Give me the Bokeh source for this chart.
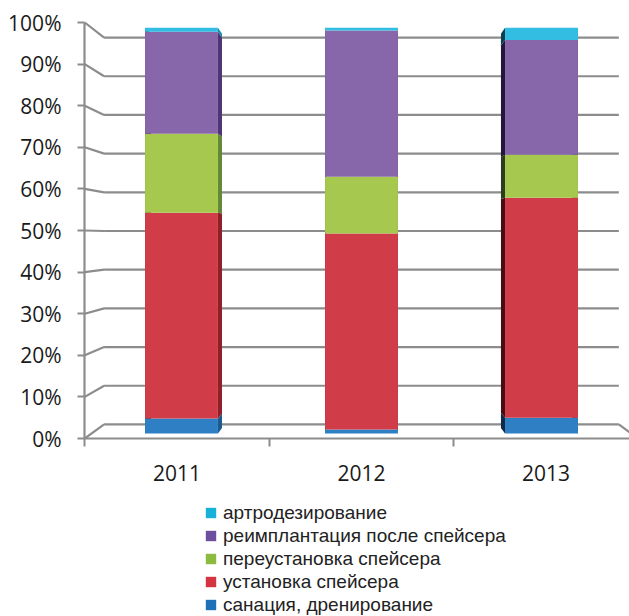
from bokeh.plotting import figure
from bokeh.layouts import column
from bokeh.models import Range1d, LinearAxis, FixedTicker, Legend, LegendItem, PrintfTickFormatter
from bokeh.embed import file_html
from bokeh.resources import INLINE

# ---------------- data ----------------
years = ["2011", "2012", "2013"]
sanation = [3.7, 1.0, 3.9]        # санация, дренирование
spacer = [50.7, 48.3, 54.2]       # установка спейсера
respacer = [19.5, 14.0, 10.6]     # переустановка спейсера
reimplant = [25.1, 36.0, 28.3]    # реимплантация после спейсера
arthrodesis = [1.0, 0.7, 3.0]     # артродезирование
y_ticks = [0, 10, 20, 30, 40, 50, 60, 70, 80, 90, 100]

series_names = ["санация, дренирование", "установка спейсера", "переустановка спейсера",
                "реимплантация после спейсера", "артродезирование"]
series_values = [sanation, spacer, respacer, reimplant, arthrodesis]
front_colors = ["#2e7fc3", "#d03c48", "#a6c84e", "#8766a9", "#34bde2"]
right_side_colors = ["#1d5a92", "#8f1f2a", "#64883a", "#4e3575", "#1a8aa8"]
left_side_colors = ["#0f2a48", "#4a0c14", "#2c3c1c", "#21183a", "#0c4050"]
legend_colors = ["#1e70b7", "#d4343f", "#8cbb3f", "#6e4f9e", "#17b0d8"]

# ---------------- pseudo-3D geometry ----------------
W, H = 629, 616
FL, FR, FT, FB = 84, 629, 15, 438          # frame in px
BOTTOM_PANEL = 56                          # x-axis area under the frame
VX, VY = 360.5, 237.0                      # vanishing point
X0F, DXF = 176.5, 184.5                    # front plane: category centre / step (px)
Y0F, DYF = 438.0, 4.16                     # front plane: 0 % line / px per %
S_BAR, S_BARBACK, S_WALL = 0.9756, 0.948, 0.93
BAR_W = 0.405


def to_px(i, v, s):
    return VX + (X0F + DXF * i - VX) * s, VY + (Y0F - DYF * v - VY) * s


def from_px(X, Y, s):
    return ((X - VX) / s + VX - X0F) / DXF, (Y0F - VY - (Y - VY) / s) / DYF


def plane_ranges(s):
    x0, y0 = from_px(FL, FB, s)
    x1, y1 = from_px(FR, FT, s)
    return Range1d(x0, x1), Range1d(y0, y1)


def convert(i, v, s_from, s_to):
    X, Y = to_px(i, v, s_from)
    return from_px(X, Y, s_to)


bx, by = plane_ranges(S_BAR)
fx, fy = plane_ranges(1.0)
wx, wy = plane_ranges(S_WALL)

p = figure(frame_width=FR - FL, frame_height=FB - FT, x_range=bx, y_range=by,
           x_axis_location=None, y_axis_location=None,
           toolbar_location=None, output_backend="svg",
           min_border_left=FL, min_border_right=W - FR,
           min_border_top=FT, min_border_bottom=BOTTOM_PANEL)
p.extra_x_ranges = {"front": fx, "wall": wx}
p.extra_y_ranges = {"front": fy, "wall": wy}
p.outline_line_color = None
p.grid.visible = False
p.background_fill_color = "white"

GRID = "#8c8c8c"

# back wall grid
p.segment(x0=[-0.5] * len(y_ticks), x1=[2.5] * len(y_ticks), y0=y_ticks, y1=y_ticks,
          x_range_name="wall", y_range_name="wall", line_color=GRID, line_width=2.2)
# left connectors (front axis -> wall)
cx = [convert(-0.5, v, S_WALL, 1.0) for v in y_ticks]
p.segment(x0=[-0.5] * len(y_ticks), y0=y_ticks, x1=[c[0] for c in cx], y1=[c[1] for c in cx],
          x_range_name="front", y_range_name="front", line_color=GRID, line_width=2.2)
# right floor connector
rc = convert(2.5, 0, S_WALL, 1.0)
p.segment(x0=[2.5], y0=[0], x1=[rc[0]], y1=[rc[1]],
          x_range_name="front", y_range_name="front", line_color=GRID, line_width=2.2)

# stacked bars
bottoms = [0.0] * len(years)
stack = []
for vals in series_values:
    b = list(bottoms)
    t = [b[k] + vals[k] for k in range(len(years))]
    stack.append((b, t))
    bottoms = t

# side faces
for si, (b, t) in enumerate(stack):
    for k in range(len(years)):
        for side, cols in ((-1, left_side_colors), (1, right_side_colors)):
            xe = k + side * BAR_W / 2
            fb = (xe, b[k]); ft = (xe, t[k])
            bb = convert(xe, b[k], S_BARBACK, S_BAR)
            bt = convert(xe, t[k], S_BARBACK, S_BAR)
            p.patch(x=[fb[0], bb[0], bt[0], ft[0]], y=[fb[1], bb[1], bt[1], ft[1]],
                    fill_color=cols[si], line_color=None)

# front faces
for si, (b, t) in enumerate(stack):
    p.vbar(x=list(range(len(years))), width=BAR_W, bottom=b, top=t,
           fill_color=front_colors[si], line_color=None)

# axes
yaxis = LinearAxis(y_range_name="front", ticker=FixedTicker(ticks=y_ticks),
                   formatter=PrintfTickFormatter(format="%d%%"), bounds=(0, 100))
yaxis.axis_line_color = GRID
yaxis.axis_line_width = 2.2
yaxis.major_tick_line_color = GRID
yaxis.major_tick_line_width = 2.2
yaxis.major_tick_out = 7
yaxis.major_tick_in = 0
yaxis.minor_tick_line_color = None
yaxis.major_label_standoff = 16
yaxis.major_label_text_font = "Open Sans"
yaxis.major_label_text_font_size = "21px"
yaxis.major_label_text_color = "#1a1a1a"
p.add_layout(yaxis, "left")

xaxis = LinearAxis(x_range_name="front",
                   ticker=FixedTicker(ticks=[0, 1, 2], minor_ticks=[-0.5, 0.5, 1.5, 2.5]),
                   major_label_overrides={k: y for k, y in enumerate(years)})
xaxis.axis_line_color = GRID
xaxis.axis_line_width = 2.2
xaxis.major_tick_line_color = None
xaxis.major_tick_out = 0
xaxis.major_tick_in = 0
xaxis.minor_tick_line_color = GRID
xaxis.minor_tick_line_width = 2
xaxis.minor_tick_out = 8
xaxis.minor_tick_in = 0
xaxis.major_label_standoff = 18
xaxis.major_label_text_font = "Open Sans"
xaxis.major_label_text_font_size = "21px"
xaxis.major_label_text_color = "#1a1a1a"
p.add_layout(xaxis, "below")

# ---------------- legend strip below the chart ----------------
LH = H - (FB + BOTTOM_PANEL)
q = figure(width=W, height=LH, x_range=(0, 1), y_range=(0, 1),
           x_axis_location=None, y_axis_location=None,
           toolbar_location=None, output_backend="svg", min_border=0)
q.outline_line_color = None
q.grid.visible = False
items = []
for si in reversed(range(len(series_names))):
    # a swatch renderer kept outside the visible range: only its legend glyph shows
    r = q.quad(left=[5], right=[6], bottom=[5], top=[6],
               fill_color=legend_colors[si], line_color=None)
    items.append(LegendItem(label=series_names[si], renderers=[r]))
legend = Legend(items=items, location=(120, 0), orientation="vertical",
                glyph_width=13, glyph_height=13, label_height=23, spacing=0,
                label_standoff=6, padding=0, margin=0,
                border_line_color=None, background_fill_alpha=0,
                label_text_font="Liberation Sans", label_text_font_size="19px",
                label_text_color="#222222")
q.add_layout(legend, "center")

layout = column(p, q, spacing=0)
open("out.html", "w").write(file_html(layout, INLINE))
